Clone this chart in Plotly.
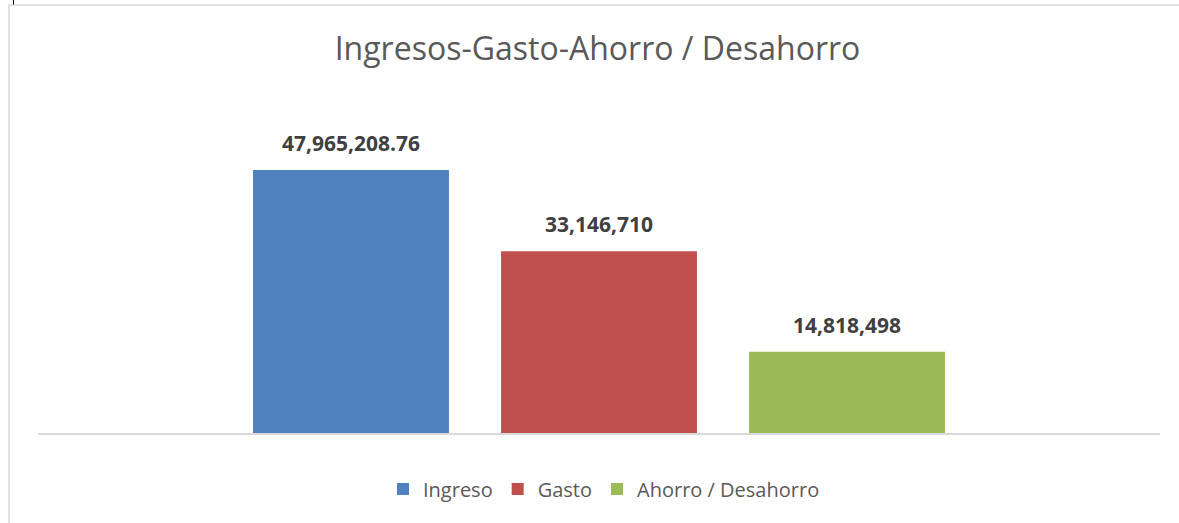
import plotly.graph_objects as go

categories = ["Ingreso", "Gasto", "Ahorro / Desahorro"]
values = [47965208.76, 33146710, 14818498]
colors = ["#4F81BD", "#C0504D", "#9BBB59"]
title_text = "Ingresos-Gasto-Ahorro / Desahorro"


def fmt(v):
    return f"{v:,.2f}" if abs(v - round(v)) > 1e-9 else f"{v:,.0f}"


fig = go.Figure()
for cat, val, col in zip(categories, values, colors):
    fig.add_trace(go.Bar(
        x=[cat], y=[val], name=cat, marker=dict(color=col, line=dict(width=0)),
        width=0.79, hoverinfo="skip",
    ))
    fig.add_annotation(
        x=cat, y=val, xref="x", yref="y", text=f"<b>{fmt(val)}</b>",
        showarrow=False, yanchor="bottom", yshift=11,
        font=dict(family="Open Sans", size=21, color="#404040"),
    )

# chart border and small mark
fig.add_shape(type="rect", xref="paper", yref="paper",
              x0=(9 - 38) / 1122, x1=1.2, y0=-0.6, y1=(433 - 5) / 329,
              line=dict(color="#D9D9D9", width=1.6), fillcolor="rgba(0,0,0,0)", layer="below")
fig.add_shape(type="line", xref="paper", yref="paper",
              x0=(13.5 - 38) / 1122, x1=(13.5 - 38) / 1122, y0=(433 - 0) / 329, y1=(433 - 4.5) / 329,
              line=dict(color="#000000", width=1))

fig.update_layout(
    width=1179, height=523,
    margin=dict(l=38, r=19, t=104, b=90),
    paper_bgcolor="white", plot_bgcolor="white",
    barmode="overlay",
    title=dict(text=title_text, x=597.5 / 1179, xref="container", xanchor="center",
               y=1 - 48.3 / 523, yref="container", yanchor="middle",
               font=dict(family="Open Sans", size=32, color="#595959")),
    xaxis=dict(type="category", range=[-1.262, 3.262], showticklabels=False, ticks="",
               showgrid=False, zeroline=False, showline=True, linecolor="#D9D9D9", linewidth=2),
    yaxis=dict(range=[0, 60e6], visible=False, showgrid=False, zeroline=False),
    legend=dict(orientation="h", x=604 / 1179, xref="container", xanchor="center",
                y=1 - 489 / 523, yref="container", yanchor="middle",
                font=dict(family="Open Sans", size=20, color="#595959"),
                bgcolor="rgba(0,0,0,0)"),
    showlegend=True,
)

fig.write_html("out.html")
